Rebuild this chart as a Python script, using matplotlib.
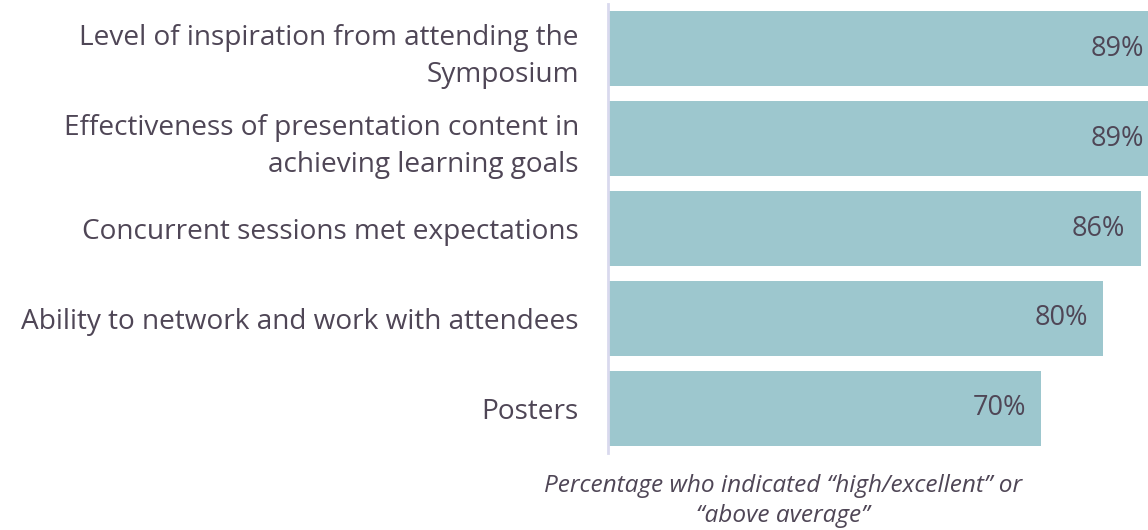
import matplotlib.pyplot as plt

categories = [
    "Level of inspiration from attending the\nSymposium",
    "Effectiveness of presentation content in\nachieving learning goals",
    "Concurrent sessions met expectations",
    "Ability to network and work with attendees",
    "Posters",
]
values = [89, 89, 86, 80, 70]
caption = "Percentage who indicated \u201chigh/excellent\u201d or\n\u201cabove average\u201d"

text_color = "#4F4656"
bar_color = "#9DC7CE"
plt.rcParams["font.family"] = ["Open Sans", "DejaVu Sans"]

fig = plt.figure(figsize=(11.48, 5.30), dpi=100)
ax = fig.add_axes([608 / 1148, 1 - 453 / 530, 1 - 608 / 1148, 449 / 530])

pos = list(range(len(categories)))
ax.barh(pos, values, height=0.835, color=bar_color)
ax.set_ylim(len(categories) - 0.5, -0.5)
ax.set_xlim(0, 87.2)

for p, v in zip(pos, values):
    ax.annotate(f"{v}%", (v, p), xytext=(-11, 0), textcoords="offset points",
                ha="right", va="center", fontsize=19.5, color=text_color,
                annotation_clip=False)

ax.set_yticks(pos)
ax.set_yticklabels(categories, fontsize=20.2, color=text_color, ha="right",
                   linespacing=1.4)
ax.tick_params(axis="y", length=0, pad=21)
ax.set_xticks([])
for s in ["top", "right", "bottom"]:
    ax.spines[s].set_visible(False)
ax.spines["left"].set_color("#D9D9EE")
ax.spines["left"].set_linewidth(2)

fig.text(783 / 1148, 1 - 501 / 530, caption, ha="center", va="center",
         fontsize=17.6, style="italic", color=text_color, linespacing=1.3)

fig.savefig("out.png", dpi=100)
